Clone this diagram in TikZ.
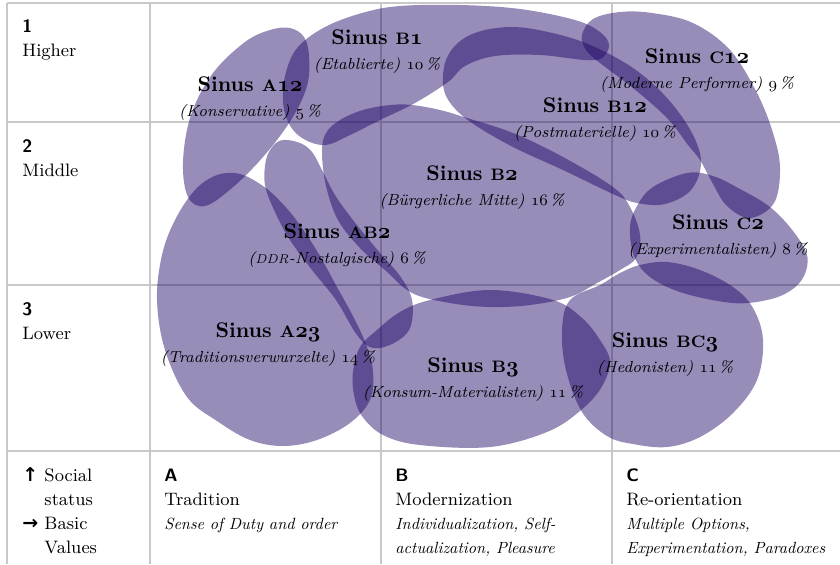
\documentclass[tikz,border=0pt]{standalone}
\usepackage{fontspec}
\usepackage{tikz}
\newfontfamily\symfont{DejaVu Sans}
\newfontface\kursivzehn{lmroman10-italic.otf}
\definecolor{gitterfarbe}{RGB}{200,200,200}
\definecolor{milieufarbe}{RGB}{26,0,100}
\tikzstyle{milieu} = [fill = milieufarbe, fill opacity = 0.45]
\tikzstyle{gitter} = [draw = gitterfarbe, line width = 1pt]
\tikzstyle{beschriftung} = [align = center, inner sep = 0pt, font = \fontsize{8}{12.5}\selectfont\itshape]
\tikzstyle{rand} = [anchor = base west, align = left, inner sep = 0pt, font = \fontsize{9}{12}\selectfont]
\newcommand\titel[1]{{\upshape\bfseries\fontsize{10.6}{12.5}\selectfont #1}}
\newcommand\kap[1]{{\fontsize{8.3}{10}\selectfont #1}}
\newcommand\osf[1]{{\usefont{OML}{cmm}{m}{it}#1}}
\newcommand\osfb[1]{{\usefont{OML}{cmm}{b}{it}#1}}
\newcommand\kursiv[1]{{\kursivzehn\fontsize{8.1}{12}\selectfont #1}}
\newcommand\pfeil[1]{{\symfont\bfseries\fontsize{9.5}{9.5}\selectfont #1}}
\begin{document}
\begin{tikzpicture}[x = 0.5pt, y = -0.5pt]
\useasboundingbox (0,0) rectangle (840,564);
% grid
\draw[gitter] (7,3) -- (840,3);
\foreach \y in {122,285,451} \draw[gitter] (7,\y) -- (840,\y);
\foreach \x in {7,150,381,612} \draw[gitter] (\x,3) -- (\x,564);
% milieus
\fill[milieu] plot[smooth cycle, tension = 0.6] coordinates {(290,28) (304,37) (309,56) (307,86) (291,120) (263,157) (232,188) (205,206) (188,197) (183,162) (191,115) (213,73) (245,42) (270,30)};
\fill[milieu] plot[smooth cycle, tension = 0.6] coordinates {(283,100) (286,72) (298,47) (325,27) (362,13) (400,6) (460,5) (520,9) (575,20) (600,32) (609,45) (602,58) (585,60) (540,55) (495,56) (465,66) (448,82) (415,103) (380,120) (350,135) (325,145) (302,138) (288,122)};
\fill[milieu] plot[smooth cycle, tension = 0.6] coordinates {(443,85) (446,60) (459,42) (481,31) (513,27) (548,32) (588,44) (633,68) (667,98) (692,133) (701,163) (691,190) (665,204) (637,203) (613,194) (563,170) (513,147) (472,123) (451,104)};
\fill[milieu] plot[smooth cycle, tension = 0.6] coordinates {(582,35) (593,19) (620,12) (652,13) (693,23) (730,50) (757,93) (773,133) (780,168) (774,203) (750,218) (727,206) (713,184) (700,160) (688,145) (667,118) (633,88) (600,63) (586,50)};
\fill[milieu] plot[smooth cycle, tension = 0.6] coordinates {(630,227) (637,206) (653,187) (687,173) (713,176) (740,189) (770,207) (793,231) (807,255) (804,276) (790,291) (767,300) (733,303) (683,293) (650,277) (634,256)};
\fill[milieu] plot[smooth cycle, tension = 0.6] coordinates {(322,152) (326,133) (340,120) (363,110) (390,105) (412,105) (440,110) (467,118) (513,133) (563,157) (613,187) (630,207) (640,235) (636,258) (620,270) (597,283) (570,297) (530,305) (490,307) (450,303) (412,293) (385,270) (360,248) (338,220) (326,186)};
\fill[milieu] plot[smooth cycle, tension = 0.6] coordinates {(283,140) (300,143) (312,152) (322,170) (335,195) (353,220) (380,253) (400,276) (412,300) (410,328) (394,343) (373,348) (357,335) (336,300) (312,270) (290,240) (275,212) (265,185) (266,160) (273,146)};
\fill[milieu] plot[smooth cycle, tension = 0.6] coordinates {(217,175) (240,174) (263,186) (280,201) (297,221) (317,251) (337,287) (355,320) (367,347) (373,372) (370,400) (350,423) (317,440) (283,446) (250,440) (217,421) (187,397) (165,350) (157,300) (162,255) (175,220) (195,190)};
\fill[milieu] plot[smooth cycle, tension = 0.6] coordinates {(353,372) (360,347) (377,330) (400,312) (430,300) (490,290) (553,300) (582,318) (600,340) (610,362) (601,388) (580,411) (547,432) (490,447) (420,445) (383,435) (362,416) (354,395)};
\fill[milieu] plot[smooth cycle, tension = 0.6] coordinates {(570,300) (600,285) (620,273) (640,265) (667,262) (700,270) (733,287) (753,308) (763,340) (757,380) (733,413) (700,437) (667,447) (633,444) (607,436) (582,412) (566,370) (562,330)};
% milieu labels
\node (a12) [beschriftung] at (250,99) {\titel{Sinus \kap{A}\osfb{12}}\\(Konservative) \osf{5}\,\%};
\node (b1) [beschriftung] at (377,52) {\titel{Sinus \kap{B}\osfb{1}}\\(Etablierte) \osf{10}\,\%};
\node (c12) [beschriftung] at (697,71) {\titel{Sinus \kap{C}\osfb{12}}\\(Moderne Performer) \osf{9}\,\%};
\node (b12) [beschriftung] at (595,120) {\titel{Sinus \kap{B}\osfb{12}}\\(Postmaterielle) \osf{10}\,\%};
\node (b2) [beschriftung] at (472,188) {\titel{Sinus \kap{B}\osfb{2}}\\(Bürgerliche Mitte) \osf{16}\,\%};
\node (ab2) [beschriftung] at (337,246) {\titel{Sinus \kap{AB}\osfb{2}}\\({\fontsize{6.4}{8}\selectfont DDR}-Nostalgische) \osf{6}\,\%};
\node (c2) [beschriftung] at (718,237) {\titel{Sinus \kap{C}\osfb{2}}\\(Experimentalisten) \osf{8}\,\%};
\node (a23) [beschriftung] at (268,345) {\titel{Sinus \kap{A}\osfb{23}}\\(Traditionsverwurzelte) \osf{14}\,\%};
\node (b3) [beschriftung] at (473,380) {\titel{Sinus \kap{B}\osfb{3}}\\(Konsum-Materialisten) \osf{11}\,\%};
\node (bc3) [beschriftung] at (665,355) {\titel{Sinus \kap{BC}\osfb{3}}\\(Hedonisten) \osf{11}\,\%};
% axes (base = last line)
\node (hoch) [rand] at (22,56) {\textsf{\textbf{1}}\\Higher};
\node (mitte) [rand] at (22,176) {\textsf{\textbf{2}}\\Middle};
\node (tief) [rand] at (22,339) {\textsf{\textbf{3}}\\Lower};
\node (achsen) [rand] at (22,553) {\pfeil{↑} Social\\\hphantom{\pfeil{↑} }status\\\pfeil{→} Basic\\\hphantom{\pfeil{→} }Values};
\node (spalteA) [rand] at (164,529) {\textsf{\textbf{A}}\\Tradition\\\kursiv{Sense of Duty and order}};
\node (spalteB) [rand] at (395,553) {\textsf{\textbf{B}}\\Modernization\\\kursiv{Individualization, Self-}\\\kursiv{actualization, Pleasure}};
\node (spalteC) [rand] at (626,553) {\textsf{\textbf{C}}\\Re-orientation\\\kursiv{Multiple Options,}\\\kursiv{Experimentation, Paradoxes}};
\end{tikzpicture}
\end{document}
